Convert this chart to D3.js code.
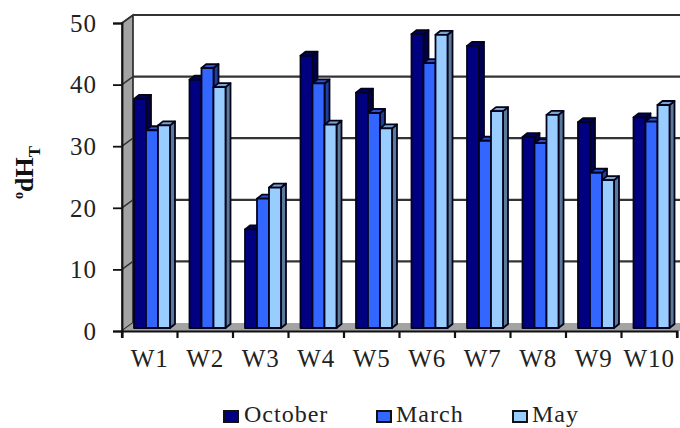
<!DOCTYPE html>
<html>
<head>
<meta charset="utf-8">
<script src="https://cdn.jsdelivr.net/npm/d3@7/dist/d3.min.js"></script>
<style>
html,body{margin:0;padding:0;background:#fff;}
svg{display:block;}
text{font-family:"Liberation Serif","Times New Roman",serif;fill:#222;}
</style>
</head>
<body>
<svg id="chart" width="680" height="428"></svg>
<script>
// Water hardness per well, three sampling months
const wells = ["W1","W2","W3","W4","W5","W6","W7","W8","W9","W10"];
const october = [37.2,40.3,16,44.2,38.2,47.7,45.8,31,33.4,34.2];
const march = [32.1,42.2,21,39.7,34.9,43,30.4,30,25.2,33.5];
const may = [32.9,39.1,22.8,33,32.4,47.6,35.2,34.6,24,36.2];
const seriesNames = ["October","March","May"];
const seriesValues = [october,march,may];
const frontColors = ["#000080","#3366ff","#99ccff"];
const sideColors = ["#000050","#1f3d99","#5b7a99"];
const topColors = ["#000066","#2952cc","#7aa3cc"];
const yTicks = [0,10,20,30,40,50];

const svg = d3.select("#chart");
const x = d3.scaleBand().domain(wells).range([122,677]);
const y = d3.scaleLinear().domain([0,50]).range([331,23]);
const series = d3.scaleBand().domain(seriesNames).range([12,48]);

// Depth offset of the back wall and of the bar fronts
const wallDx = 11, wallDy = -8;
const barDy = -3, sideDx = 5, sideDy = -4;
const right = 692;

const poly = pts => pts.map(p => p.join(",")).join(" ");

// Side wall and floor
svg.append("polygon")
  .attr("points", poly([[x.range()[0],y(0)],[x.range()[0]+wallDx,y(0)+wallDy],[x.range()[0]+wallDx,y(50)+wallDy],[x.range()[0],y(50)]]))
  .attr("fill","#a3a3a3").attr("stroke","#222").attr("stroke-width",1.6);
svg.append("polygon")
  .attr("points", poly([[x.range()[0],y(0)],[right,y(0)],[right,y(0)+wallDy],[x.range()[0]+wallDx,y(0)+wallDy]]))
  .attr("fill","#a3a3a3");

// Gridlines along the back wall and up the side wall
const grid = svg.append("g").attr("stroke","#333").attr("stroke-width",2.2);
yTicks.filter(t => t > 0).forEach(t => {
  grid.append("line")
    .attr("x1",x.range()[0]+wallDx).attr("x2",right)
    .attr("y1",y(t)+wallDy).attr("y2",y(t)+wallDy);
  grid.append("line").attr("stroke-width",1.5)
    .attr("x1",x.range()[0]).attr("x2",x.range()[0]+wallDx)
    .attr("y1",y(t)).attr("y2",y(t)+wallDy);
});

// Bars: side face, top face, front face
wells.forEach((w,i) => {
  const g = svg.append("g");
  seriesNames.forEach((name,s) => {
    const v = seriesValues[s][i];
    const x0 = x(w) + series(name), x1 = x0 + series.bandwidth();
    const yt = y(v) + barDy, yb = y(0) + barDy;
    const b = g.append("g").attr("stroke","#03031c").attr("stroke-width",1.8).attr("stroke-linejoin","round");
    b.append("polygon").attr("fill",sideColors[s])
      .attr("points",poly([[x1,yb],[x1+sideDx,yb+sideDy],[x1+sideDx,yt+sideDy],[x1,yt]]));
    b.append("polygon").attr("fill",topColors[s])
      .attr("points",poly([[x0,yt],[x0+sideDx,yt+sideDy],[x1+sideDx,yt+sideDy],[x1,yt]]));
    b.append("rect").attr("x",x0).attr("y",yt).attr("width",x1-x0).attr("height",yb-yt).attr("fill",frontColors[s]);
  });
});

// Axes
const yAxis = d3.axisLeft(y).tickValues(yTicks).tickSize(9).tickPadding(16);
const yG = svg.append("g").attr("transform",`translate(${x.range()[0]},0)`).call(yAxis);
yG.select(".domain").attr("stroke","#111").attr("stroke-width",1.8);
yG.selectAll(".tick line").attr("stroke","#111").attr("stroke-width",1.8);
yG.selectAll("text").attr("font-size",25).attr("letter-spacing",1).attr("dy","0.33em").attr("fill","#222");

const xAxis = d3.axisBottom(x).tickSize(7).tickPadding(11).tickSizeOuter(7);
const xG = svg.append("g").attr("transform",`translate(0,${y(0)})`).call(xAxis);
xG.select(".domain").attr("stroke","#111").attr("stroke-width",2.2);
xG.selectAll(".tick line").attr("stroke","#111").attr("stroke-width",2.2)
  .attr("transform",function(d){ return `translate(${-x.bandwidth()/2},0)`; });
xG.selectAll("text").attr("font-size",25).attr("letter-spacing",1).attr("fill","#222");
xG.append("line").attr("x1",x.range()[1]).attr("x2",x.range()[1]).attr("y1",0).attr("y2",7).attr("stroke","#111").attr("stroke-width",2.2);

// Rotated y axis title with superscript and subscript
const title = svg.append("text")
  .attr("transform","translate(33,199) rotate(-90)")
  .attr("text-anchor","start").attr("font-weight","bold").attr("font-size",26).style("fill","#111");
title.append("tspan").attr("font-size",14).attr("dy",-10).text("o");
title.append("tspan").attr("dy",10).text("dH");
title.append("tspan").attr("font-size",17).attr("dy",7).text("T");

// Legend
const legendX = [223,376,512], labelX = [244,396,532];
const legend = svg.append("g");
seriesNames.forEach((name,s) => {
  legend.append("rect").attr("x",legendX[s]+1).attr("y",411).attr("width",14).attr("height",11)
    .attr("fill",frontColors[s]).attr("stroke","#111").attr("stroke-width",2);
  legend.append("text").attr("x",labelX[s]).attr("y",422).attr("font-size",24).attr("letter-spacing",1).text(name);
});
</script>
</body>
</html>
